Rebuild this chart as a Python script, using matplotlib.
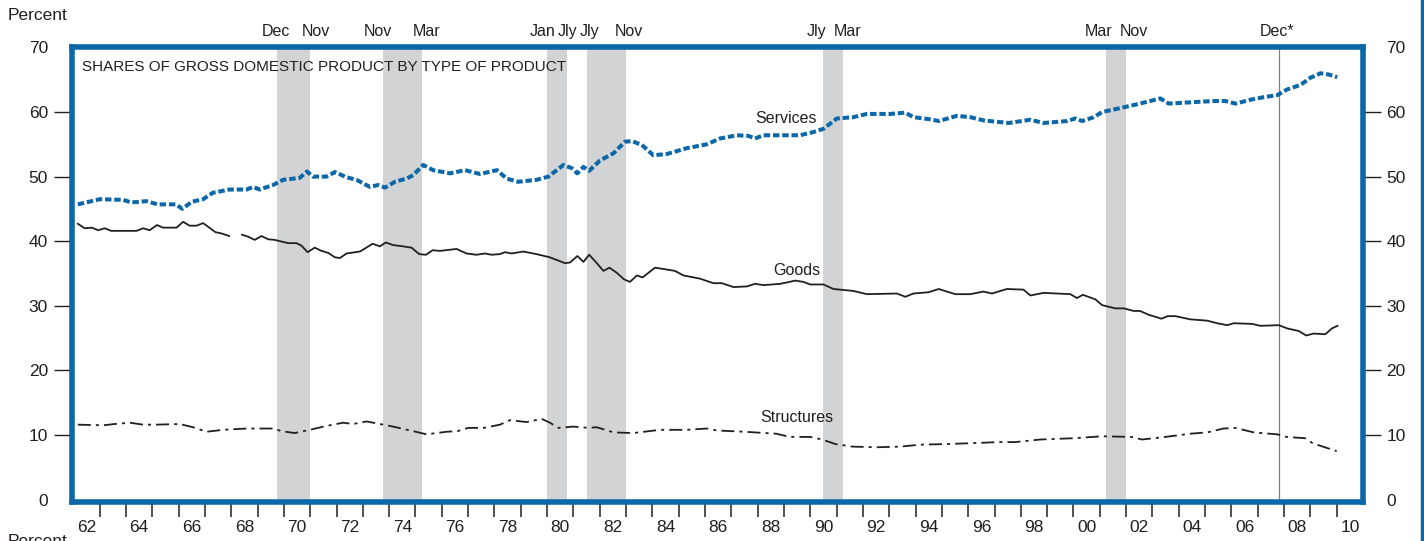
#---------------------------------------------------------------------------------------------------
# Imports
#---------------------------------------------------------------------------------------------------

import numpy as np
import matplotlib as mpl
mpl.use('Agg')
import matplotlib.pyplot as plt
from matplotlib.lines import Line2D
import matplotlib.transforms as mtransforms

#---------------------------------------------------------------------------------------------------
# Global Parameters
#---------------------------------------------------------------------------------------------------

mpl.rcParams['font.family'] = ['Liberation Sans', 'DejaVu Sans']
mpl.rcParams['text.color'] = '#231f20'

BLUE = '#0b67a8'
GRAY_BAND = '#d1d3d4'
INK = '#231f20'

#---------------------------------------------------------------------------------------------------
# Data (percent of GDP)
#---------------------------------------------------------------------------------------------------

services_years = [1962.17, 1963.0, 1963.89, 1964.2, 1964.78, 1965.2, 1965.9, 1966.14, 1966.5, 1966.93,
                  1967.3, 1967.94, 1968.58, 1968.83, 1969.08, 1969.59, 1969.97, 1970.6, 1970.88, 1971.1,
                  1971.62, 1971.94, 1972.38, 1972.76, 1973.27, 1973.58, 1973.84, 1974.22, 1974.66, 1974.91,
                  1975.29, 1975.67, 1976.31, 1976.88, 1977.45, 1978.1, 1978.46, 1978.9, 1979.6, 1980.05,
                  1980.62, 1980.94, 1981.15, 1981.38, 1981.6, 1982.01, 1982.52, 1982.96, 1983.22, 1983.6,
                  1984.04, 1984.55, 1985.31, 1986.07, 1986.57, 1987.21, 1987.65, 1987.9, 1988.22, 1988.98,
                  1989.61, 1990.12, 1990.5, 1991.01, 1991.64, 1992.15, 1993.04, 1993.61, 1993.92, 1994.5,
                  1994.88, 1995.57, 1996.08, 1996.58, 1997.54, 1998.36, 1998.87, 1999.76, 2000.07, 2000.33,
                  2000.77, 2001.09, 2001.66, 2002.42, 2003.3, 2003.62, 2004.44, 2005.33, 2005.77, 2006.16,
                  2006.73, 2007.23, 2007.74, 2008.12, 2008.63, 2009.0, 2009.39, 2009.7, 2010.02]
services_values = [45.7, 46.5, 46.4, 46.0, 46.2, 45.7, 45.7, 45.0, 46.1, 46.5,
                   47.5, 48.0, 48.0, 48.4, 48.0, 48.7, 49.5, 49.8, 50.8, 50.0,
                   50.0, 50.7, 49.9, 49.5, 48.4, 48.7, 48.3, 49.2, 49.7, 50.2,
                   51.8, 51.0, 50.5, 51.0, 50.4, 51.0, 49.7, 49.2, 49.5, 50.0,
                   51.8, 51.3, 50.5, 51.5, 50.9, 52.5, 53.6, 55.4, 55.5, 54.9,
                   53.3, 53.5, 54.4, 55.0, 55.9, 56.4, 56.3, 55.9, 56.4, 56.4,
                   56.4, 56.9, 57.4, 59.0, 59.2, 59.7, 59.7, 59.9, 59.2, 58.9,
                   58.6, 59.4, 59.2, 58.7, 58.3, 58.8, 58.3, 58.6, 59.0, 58.6,
                   59.2, 60.0, 60.5, 61.2, 62.1, 61.3, 61.5, 61.7, 61.7, 61.3,
                   61.9, 62.3, 62.6, 63.5, 64.2, 65.3, 66.0, 65.8, 65.4]

# nan marks the break in the goods line during 1968
goods_years = [1962.17, 1962.43, 1962.7, 1962.94, 1963.19, 1963.44, 1964.4, 1964.65, 1964.9, 1965.18,
               1965.4, 1965.92, 1966.17, 1966.42, 1966.68, 1966.93, 1967.4, 1967.63, 1967.92, 1968.15,
               1968.41, 1968.64, 1968.89, 1969.15, 1969.4, 1969.65, 1970.16, 1970.48, 1970.67, 1970.9,
               1971.17, 1971.43, 1971.68, 1971.94, 1972.13, 1972.38, 1972.89, 1973.37, 1973.65, 1973.87,
               1974.15, 1974.53, 1974.85, 1975.14, 1975.4, 1975.65, 1975.93, 1976.56, 1976.94, 1977.32,
               1977.64, 1977.89, 1978.2, 1978.4, 1978.65, 1979.1, 1979.6, 1980.11, 1980.68, 1980.87,
               1981.15, 1981.38, 1981.6, 1981.89, 1982.14, 1982.37, 1982.65, 1982.92, 1983.15, 1983.41,
               1983.63, 1984.1, 1984.42, 1984.86, 1985.18, 1985.81, 1986.32, 1986.64, 1987.08, 1987.59,
               1987.9, 1988.22, 1988.86, 1989.43, 1989.74, 1990.0, 1990.5, 1990.88, 1991.64, 1992.15,
               1993.29, 1993.61, 1993.92, 1994.5, 1994.88, 1995.51, 1996.08, 1996.58, 1996.9, 1997.47,
               1998.1, 1998.36, 1998.87, 1999.88, 2000.13, 2000.36, 2000.83, 2001.09, 2001.59, 2001.91,
               2002.29, 2002.53, 2002.86, 2003.11, 2003.34, 2003.58, 2003.87, 2004.44, 2005.08, 2005.46,
               2005.84, 2006.09, 2006.79, 2007.1, 2007.8, 2008.12, 2008.56, 2008.84, 2009.12, 2009.57,
               2009.82, 2010.03]
goods_values = [42.7, 42.0, 42.1, 41.7, 42.0, 41.6, 41.6, 42.0, 41.7, 42.5,
                42.1, 42.1, 43.0, 42.4, 42.4, 42.8, 41.4, 41.2, 40.8, np.nan,
                41.0, 40.7, 40.2, 40.8, 40.3, 40.2, 39.7, 39.7, 39.3, 38.3,
                39.0, 38.5, 38.2, 37.5, 37.4, 38.1, 38.4, 39.6, 39.2, 39.8,
                39.4, 39.2, 39.0, 38.0, 37.9, 38.6, 38.5, 38.8, 38.1, 37.9,
                38.1, 37.9, 38.0, 38.3, 38.1, 38.4, 38.0, 37.5, 36.6, 36.7,
                37.7, 36.8, 37.9, 36.6, 35.4, 35.9, 35.1, 34.1, 33.7, 34.7,
                34.4, 35.9, 35.7, 35.4, 34.7, 34.2, 33.5, 33.5, 32.9, 33.0,
                33.4, 33.2, 33.4, 33.9, 33.7, 33.3, 33.3, 32.6, 32.3, 31.8,
                31.9, 31.4, 31.9, 32.1, 32.6, 31.8, 31.8, 32.2, 31.9, 32.6,
                32.5, 31.6, 32.0, 31.8, 31.2, 31.7, 31.0, 30.1, 29.6, 29.6,
                29.2, 29.2, 28.6, 28.3, 28.0, 28.4, 28.4, 27.9, 27.7, 27.3,
                27.0, 27.3, 27.2, 26.9, 27.0, 26.5, 26.1, 25.4, 25.7, 25.6,
                26.5, 26.9]

structures_years = [1962.17, 1963.13, 1963.57, 1964.14, 1964.65, 1965.15, 1966.04, 1966.55, 1967.06, 1967.69,
                    1968.58, 1969.59, 1969.91, 1970.41, 1970.98, 1971.62, 1972.25, 1972.63, 1973.14, 1973.65,
                    1974.15, 1974.91, 1975.42, 1976.18, 1976.6, 1977.0, 1977.6, 1978.21, 1978.59, 1979.22,
                    1979.79, 1980.11, 1980.43, 1981.0, 1981.57, 1981.89, 1982.52, 1983.28, 1984.29, 1985.31,
                    1986.07, 1986.45, 1987.5, 1988.7, 1989.23, 1990.0, 1990.45, 1990.95, 1991.6, 1992.53,
                    1993.42, 1994.18, 1995.19, 1995.89, 1997.16, 1997.79, 1998.74, 2000.0, 2001.1, 2002.2,
                    2002.6, 2003.49, 2004.06, 2004.44, 2005.08, 2005.7, 2006.15, 2006.85, 2007.74, 2008.1,
                    2008.8, 2009.1, 2010.0]
structures_values = [11.6, 11.5, 11.7, 11.9, 11.6, 11.6, 11.7, 11.2, 10.5, 10.8,
                     11.0, 11.0, 10.6, 10.3, 10.8, 11.4, 11.9, 11.7, 12.1, 11.7,
                     11.3, 10.6, 10.1, 10.5, 10.6, 11.1, 11.1, 11.6, 12.3, 12.0,
                     12.5, 11.9, 11.1, 11.3, 11.1, 11.2, 10.4, 10.3, 10.8, 10.8,
                     11.0, 10.7, 10.5, 10.2, 9.7, 9.7, 9.3, 8.6, 8.2, 8.1,
                     8.2, 8.5, 8.6, 8.7, 8.9, 8.9, 9.3, 9.5, 9.8, 9.7,
                     9.3, 9.7, 10.0, 10.2, 10.4, 11.0, 11.1, 10.4, 10.1, 9.7,
                     9.5, 8.7, 7.5]

# Recessions (shaded), start / end in years
recession_starts = [1969.75, 1973.75, 1980.0, 1981.5, 1990.5, 2001.25]
recession_ends = [1971.0, 1975.25, 1980.75, 1983.0, 1991.25, 2002.0]

# Month labels above the frame
month_labels = ['Dec', 'Nov', 'Nov', 'Mar', 'Jan', 'Jly', 'Jly', 'Nov', 'Jly', 'Mar', 'Mar', 'Nov', 'Dec*']
month_label_x = [1969.70, 1971.22, 1973.58, 1975.41, 1979.82, 1980.77, 1981.60, 1983.12,
                 1990.24, 1991.41, 2000.96, 2002.29, 2007.72]

peak_line_x = 2007.8

year_ticks = list(range(1963, 2011))
year_label_years = list(range(1962, 2011, 2))
year_labels = ['%02d' % (y % 100) for y in year_label_years]

y_ticks = [0, 10, 20, 30, 40, 50, 60, 70]

#---------------------------------------------------------------------------------------------------
# Plot
#---------------------------------------------------------------------------------------------------

def main():
    fig = plt.figure(figsize=(14.24, 5.41), dpi=100)
    ax = fig.add_axes((71.5 / 1424, 38.7 / 541, 1291.5 / 1424, 455.8 / 541))

    ax.set_xlim(1961.93, 2011.0)
    ax.set_ylim(-0.42, 70.14)

    # recession bands and business-cycle peak line
    for s, e in zip(recession_starts, recession_ends):
        ax.axvspan(s, e, color=GRAY_BAND, lw=0, zorder=0)
    ax.axvline(peak_line_x, color='#808080', lw=0.9, zorder=1)

    # series
    ax.plot(services_years, services_values, color=BLUE, lw=2.9,
            dashes=(1.6, 0.7), dash_capstyle='butt', zorder=3)
    ax.plot(goods_years, goods_values, color=INK, lw=1.3, solid_joinstyle='round', zorder=3)
    ax.plot(structures_years, structures_values, color=INK, lw=1.3,
            dashes=(7.2, 2.8, 1.7, 2.8), dash_capstyle='butt', zorder=3)

    # series labels
    ax.text(1989.08, 59.0, 'Services', ha='center', va='center', fontsize=11.5)
    ax.text(1989.48, 35.4, 'Goods', ha='center', va='center', fontsize=11.5)
    ax.text(1989.48, 12.7, 'Structures', ha='center', va='center', fontsize=11.5)

    ax.text(1962.33, 66.97, 'SHARES OF GROSS DOMESTIC PRODUCT BY TYPE OF PRODUCT',
            ha='left', va='center', fontsize=11)

    # month labels above the frame
    trans = mtransforms.blended_transform_factory(ax.transData, ax.transAxes)
    for lab, x in zip(month_labels, month_label_x):
        ax.text(x, 1.034, lab, transform=trans, ha='center', va='center', fontsize=11.5)

    # frame
    for sp in ax.spines.values():
        sp.set_color(BLUE)
        sp.set_linewidth(4.0)

    # y axis on both sides
    ax.set_yticks(y_ticks)
    ax.set_yticklabels([str(v) for v in y_ticks])
    ax.tick_params(axis='y', which='major', left=True, right=True, labelleft=True, labelright=True,
                   direction='out', length=13, width=1.0, color=INK, pad=4, labelsize=12.5,
                   labelcolor=INK)
    yt = ax.yaxis.get_major_ticks()
    for t in (yt[0], yt[-1]):
        t.tick1line.set_visible(False)
        t.tick2line.set_visible(False)

    # x axis: year ticks and labels centered in the year
    ax.set_xticks(year_ticks)
    ax.set_xticklabels([])
    ax.tick_params(axis='x', which='major', direction='out', length=10.5, width=1.1, color=INK)
    ax.set_xticks([y + 0.5 for y in year_label_years], minor=True)
    ax.set_xticklabels(year_labels, minor=True)
    ax.tick_params(axis='x', which='minor', length=0, pad=13, labelsize=12.5, labelcolor=INK)

    # axis titles
    fig.text(8 / 1424, 1 - 15 / 541, 'Percent', ha='left', va='center', fontsize=12.5)
    fig.text(8 / 1424, 7 / 541, 'Percent', ha='left', va='top', fontsize=12.5)

    # outer frame edge at right
    fig.add_artist(Line2D([1421.5 / 1424, 1421.5 / 1424], [0, 1], color=BLUE, lw=2.5,
                          transform=fig.transFigure))

    fig.savefig('out.png', dpi=100)
    plt.close(fig)


if __name__ == '__main__':
    main()
